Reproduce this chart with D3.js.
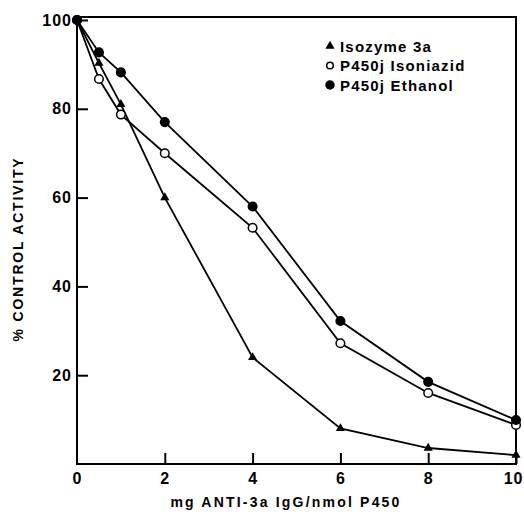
<!DOCTYPE html>
<html><head><meta charset="utf-8">
<script src="https://cdn.jsdelivr.net/npm/d3@7"></script>
<style>body{margin:0;background:#fff}</style>
</head><body>
<svg id="c" width="524" height="512"></svg>
<script>
const doses = [0, 0.5, 1, 2, 4, 6, 8, 10];
const isozyme3a = [100, 90.3, 81, 60, 24, 8, 3.6, 2];
const isoniazid = [100, 86.7, 78.7, 70, 53.2, 27.2, 16, 8.8];
const ethanol = [100, 92.7, 88.2, 77, 58, 32.2, 18.5, 9.9];
const xTicks = [0, 2, 4, 6, 8, 10];
const yTicks = [20, 40, 60, 80, 100];
const legendLabels = ["Isozyme 3a", "P450j Isoniazid", "P450j Ethanol"];

const svg = d3.select("#c");
const font = "'Liberation Sans', Arial, sans-serif";
const x = d3.scaleLinear().domain([0, 10]).range([77, 516]);
const y = d3.scaleLinear().domain([0, 100]).range([464, 20]);

// frame
svg.append("rect").attr("x", x(0)).attr("y", 17).attr("width", x(10) - x(0)).attr("height", y(0) - 17)
  .attr("fill", "none").attr("stroke", "#000").attr("stroke-width", 2);

// axes ticks (inward)
const yAxis = d3.axisLeft(y).tickValues(yTicks).tickSize(-11).tickPadding(16).tickFormat(d3.format("d"));
const gy = svg.append("g").attr("transform", `translate(${x(0)},0)`).call(yAxis);
gy.select(".domain").remove();
gy.selectAll("line").attr("stroke", "#000").attr("stroke-width", 2);
gy.selectAll("text").attr("font-family", font).attr("font-weight", "bold").attr("font-size", 16).attr("letter-spacing", 1).attr("fill", "#000").attr("x", -5);

const xAxis = d3.axisBottom(x).tickValues(xTicks).tickSize(-11).tickPadding(12).tickFormat(d3.format("d"));
const gx = svg.append("g").attr("transform", `translate(0,${y(0)})`).call(xAxis);
gx.select(".domain").remove();
gx.selectAll("line").attr("stroke", "#000").attr("stroke-width", 2);
gx.selectAll("line").filter(d => d === 0).remove();
gx.selectAll("text").attr("font-family", font).attr("font-weight", "bold").attr("font-size", 16).attr("letter-spacing", 1).attr("fill", "#000").attr("y", 9);
gx.selectAll("text").filter(d => d === 10).attr("text-anchor", "end").attr("x", 7);

// axis titles
svg.append("text").attr("x", 286).attr("y", 507).attr("text-anchor", "middle")
  .attr("font-family", font).attr("font-weight", "bold").attr("font-size", 14).attr("letter-spacing", 2.2)
  .text("mg ANTI-3a IgG/nmol P450");
svg.append("text").attr("transform", "translate(23,249) rotate(-90)").attr("text-anchor", "middle")
  .attr("font-family", font).attr("font-weight", "bold").attr("font-size", 14).attr("letter-spacing", 1.8)
  .text("% CONTROL ACTIVITY");

const line = d3.line().x(d => x(d[0])).y(d => y(d[1]));
const series = [
  {vals: isozyme3a, type: "tri"},
  {vals: isoniazid, type: "open"},
  {vals: ethanol, type: "filled"}
];
series.forEach(s => {
  const pts = doses.map((d, i) => [d, s.vals[i]]);
  svg.append("path").datum(pts).attr("d", line).attr("fill", "none").attr("stroke", "#000").attr("stroke-width", 1.8);
});
function marker(g, type, cx, cy, r) {
  if (type === "tri") {
    g.append("path").attr("d", d3.symbol(d3.symbolTriangle, 36)()).attr("transform", `translate(${cx},${cy})`).attr("fill", "#000");
  } else {
    g.append("circle").attr("cx", cx).attr("cy", cy).attr("r", r)
      .attr("fill", type === "open" ? "#fff" : "#000").attr("stroke", "#000").attr("stroke-width", 1.5);
  }
}
series.forEach(s => {
  const g = svg.append("g");
  doses.forEach((d, i) => marker(g, s.type, x(d), y(s.vals[i]), 4.3));
});

// legend
const lg = svg.append("g");
legendLabels.forEach((t, i) => {
  const ly = 46 + i * 19.5;
  marker(lg, series[i].type, 330, ly, i === 1 ? 3.3 : 4);
  lg.append("text").attr("x", 340).attr("y", ly + 5.5).attr("font-family", font).attr("font-weight", "bold")
    .attr("font-size", 15).attr("letter-spacing", 1.2).text(t);
});
</script>
</body></html>
